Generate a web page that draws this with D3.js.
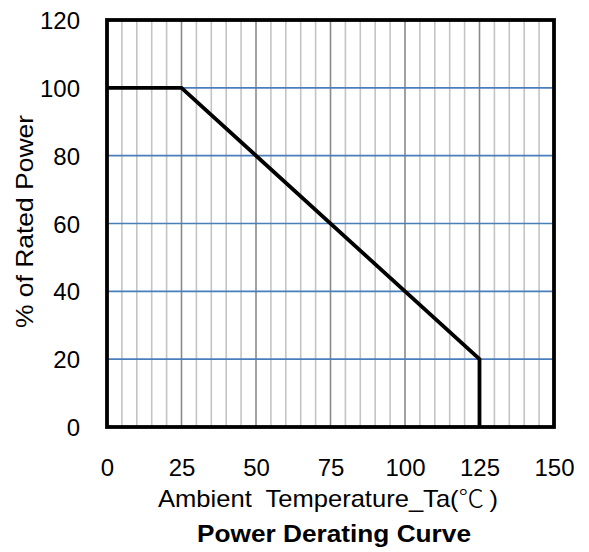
<!DOCTYPE html>
<html>
<head>
<meta charset="utf-8">
<script src="https://cdn.jsdelivr.net/npm/d3@7"></script>
<style>
  body { margin: 0; background: #fff; }
  text { font-family: "Liberation Sans", Arial, sans-serif; fill: #000; }
</style>
</head>
<body>
<svg id="chart"></svg>
<script>
// derating curve points: temperature (C) vs % of rated power
const tempValues = [0, 25, 125, 125];
const powerValues = [100, 100, 20, 0];
const xTicks = [0, 25, 50, 75, 100, 125, 150];
const yTicks = [0, 20, 40, 60, 80, 100, 120];

const width = 589;
const height = 552;
const margin = { top: 20, right: 35, bottom: 125, left: 107 };
const innerW = width - margin.left - margin.right;
const innerH = height - margin.top - margin.bottom;

const svg = d3.select('#chart')
  .attr('width', width)
  .attr('height', height);

const chart = svg.append('g')
  .attr('transform', `translate(${margin.left},${margin.top})`);

const xScale = d3.scaleLinear().domain([0, 150]).range([0, innerW]);
const yScale = d3.scaleLinear().domain([0, 120]).range([innerH, 0]);

// vertical grid, minor every 5, darker every 25
const minorX = d3.range(5, 150, 5);
chart.append('g')
  .selectAll('line')
  .data(minorX)
  .join('line')
  .attr('x1', (d) => xScale(d))
  .attr('x2', (d) => xScale(d))
  .attr('y1', 0)
  .attr('y2', innerH)
  .attr('stroke', (d) => (d % 25 === 0 ? '#8a8a8a' : '#c4c4c4'))
  .attr('stroke-width', 1.6);

// horizontal grid
chart.append('g')
  .selectAll('line')
  .data(yTicks.filter((d) => d > 0 && d < 120))
  .join('line')
  .attr('x1', 0)
  .attr('x2', innerW)
  .attr('y1', (d) => yScale(d))
  .attr('y2', (d) => yScale(d))
  .attr('stroke', '#4a7ebb')
  .attr('stroke-width', 1.6);

// axes (labels only)
const xAxis = d3.axisBottom(xScale).tickValues(xTicks).tickSize(0).tickPadding(32);
const yAxis = d3.axisLeft(yScale).tickValues(yTicks).tickSize(0).tickPadding(27);

const xAxisG = chart.append('g')
  .attr('transform', `translate(0,${innerH})`)
  .call(xAxis);
const yAxisG = chart.append('g').call(yAxis);

[xAxisG, yAxisG].forEach((g) => {
  g.select('.domain').remove();
  g.selectAll('text')
    .style('font-family', '"Liberation Sans", Arial, sans-serif')
    .style('font-size', '24px')
    .attr('fill', '#000');
});
yAxisG.selectAll('text').attr('dy', '0.36em');

// curve
const line = d3.line()
  .x((d) => xScale(d[0]))
  .y((d) => yScale(d[1]));

chart.append('path')
  .datum(tempValues.map((t, i) => [t, powerValues[i]]))
  .attr('d', line)
  .attr('fill', 'none')
  .attr('stroke', '#000')
  .attr('stroke-width', 3.8);

// plot frame
chart.append('rect')
  .attr('x', 0)
  .attr('y', 0)
  .attr('width', innerW)
  .attr('height', innerH)
  .attr('fill', 'none')
  .attr('stroke', '#000')
  .attr('stroke-width', 3.8);

// axis titles
const xTitle = svg.append('text')
  .attr('x', 158)
  .attr('y', 507)
  .attr('textLength', 340)
  .attr('lengthAdjust', 'spacingAndGlyphs')
  .style('font-size', '24px')
  .style('white-space', 'pre');
xTitle.append('tspan').text('Ambient  Temperature_Ta(');
xTitle.append('tspan')
  .style('font-family', '"Noto Sans CJK JP", sans-serif')
  .style('font-weight', 300)
  .text('\u2103');
xTitle.append('tspan').attr('dx', 5).text(')');

svg.append('text')
  .attr('transform', 'translate(33,221.5) rotate(-90)')
  .attr('text-anchor', 'middle')
  .attr('textLength', 213)
  .attr('lengthAdjust', 'spacingAndGlyphs')
  .style('font-size', '24px')
  .text('% of Rated Power');

svg.append('text')
  .attr('x', 197)
  .attr('y', 542)
  .attr('textLength', 274)
  .attr('lengthAdjust', 'spacingAndGlyphs')
  .style('font-size', '24px')
  .style('font-weight', 'bold')
  .text('Power Derating Curve');
</script>
</body>
</html>
